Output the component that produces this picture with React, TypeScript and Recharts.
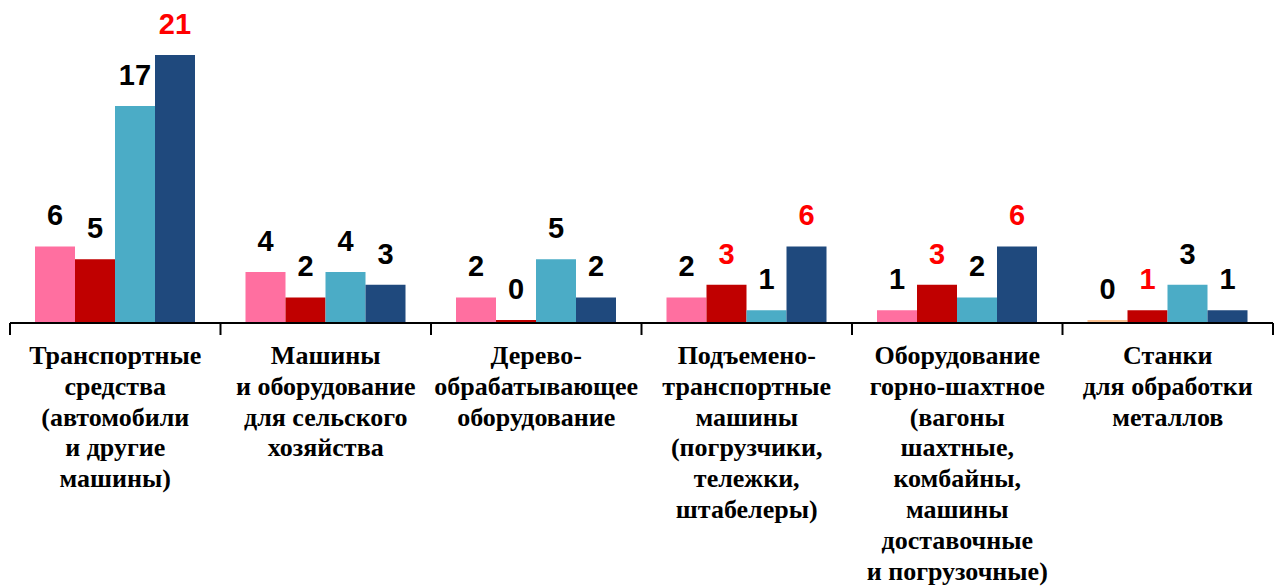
import { BarChart, Bar, XAxis, YAxis, LabelList, Cell } from 'recharts';

const CATEGORIES = [
    'Транспортные\nсредства\n(автомобили\nи другие\nмашины)',
    'Машины\nи оборудование\nдля сельского\nхозяйства',
    'Дерево-\nобрабатывающее\nоборудование',
    'Подъемено-\nтранспортные\nмашины\n(погрузчики,\nтележки,\nштабелеры)',
    'Оборудование\nгорно-шахтное\n(вагоны\nшахтные,\nкомбайны,\nмашины\nдоставочные\nи погрузочные)',
    'Станки\nдля обработки\nметаллов',
];

const SERIES_1 = [6, 4, 2, 2, 1, 0];
const SERIES_2 = [5, 2, 0, 3, 3, 1];
const SERIES_3 = [17, 4, 5, 1, 2, 3];
const SERIES_4 = [21, 3, 2, 6, 6, 1];

// which value labels are shown in red
const RED_1 = [false, false, false, false, false, false];
const RED_2 = [false, false, false, true, true, true];
const RED_3 = [false, false, false, false, false, false];
const RED_4 = [true, false, false, true, true, false];

const data = CATEGORIES.map((name, i) => ({
    name,
    s1: SERIES_1[i],
    s2: SERIES_2[i],
    s3: SERIES_3[i],
    s4: SERIES_4[i],
}));

const WIDTH = 1282;
const HEIGHT = 588;
const MARGIN = { top: 55, right: 9, bottom: 0, left: 10 };
const BAND = (WIDTH - MARGIN.left - MARGIN.right) / CATEGORIES.length;
const SERIF = "'Liberation Serif', 'Times New Roman', Tinos, 'DejaVu Serif', serif";
const SANS = "'Liberation Sans', Arial, Arimo, sans-serif";

const CategoryTick = ({ x, y, payload, index }: any) => {
    const lines = String(payload.value).split('\n');
    return (
        <g>
            <line x1={x - BAND / 2} x2={x - BAND / 2} y1={y} y2={y + 12} stroke="#000" strokeWidth={2} />
            {index === CATEGORIES.length - 1 && (
                <line x1={x + BAND / 2} x2={x + BAND / 2} y1={y} y2={y + 12} stroke="#000" strokeWidth={2} />
            )}
            <text
                x={x}
                y={y + 41}
                textAnchor="middle"
                style={{ fontFamily: SERIF, fontWeight: 'bold', fontSize: 26 }}
                fill="#000"
            >
                {lines.map((l, i) => (
                    <tspan key={i} x={x} dy={i === 0 ? 0 : 30.8}>
                        {l}
                    </tspan>
                ))}
            </text>
        </g>
    );
};

const makeLabel = (red: boolean[]) => (props: any) => {
    const { x, y, width, value, index } = props;
    return (
        <text
            x={x + width / 2}
            y={y - 21}
            textAnchor="middle"
            style={{ fontFamily: SANS, fontWeight: 'bold', fontSize: 29 }}
            fill={red[index] ? '#FF0000' : '#000'}
        >
            {value}
        </text>
    );
};

export default function App() {
    return (
        <div style={{ position: 'absolute', left: 0, top: 0, width: WIDTH, height: HEIGHT, background: '#fff' }}>
            <BarChart
                width={WIDTH}
                height={HEIGHT}
                data={data}
                margin={MARGIN}
                barGap={0}
                barCategoryGap={25}
            >
                <XAxis
                    dataKey="name"
                    interval={0}
                    height={265}
                    tickLine={false}
                    tickSize={0}
                    tickMargin={0}
                    axisLine={{ stroke: '#000', strokeWidth: 2 }}
                    tick={<CategoryTick />}
                />
                <YAxis hide domain={[0, 21]} />
                <Bar dataKey="s1" fill="#FF6FA0" isAnimationActive={false} minPointSize={3}>
                    {SERIES_1.map((v, i) => (
                        <Cell key={i} fill={v === 0 ? '#FAC090' : '#FF6FA0'} />
                    ))}
                    <LabelList dataKey="s1" content={makeLabel(RED_1)} />
                </Bar>
                <Bar dataKey="s2" fill="#C00000" isAnimationActive={false} minPointSize={3}>
                    <LabelList dataKey="s2" content={makeLabel(RED_2)} />
                </Bar>
                <Bar dataKey="s3" fill="#4BACC6" isAnimationActive={false} minPointSize={3}>
                    <LabelList dataKey="s3" content={makeLabel(RED_3)} />
                </Bar>
                <Bar dataKey="s4" fill="#1F497D" isAnimationActive={false} minPointSize={3}>
                    <LabelList dataKey="s4" content={makeLabel(RED_4)} />
                </Bar>
            </BarChart>
        </div>
    );
}
